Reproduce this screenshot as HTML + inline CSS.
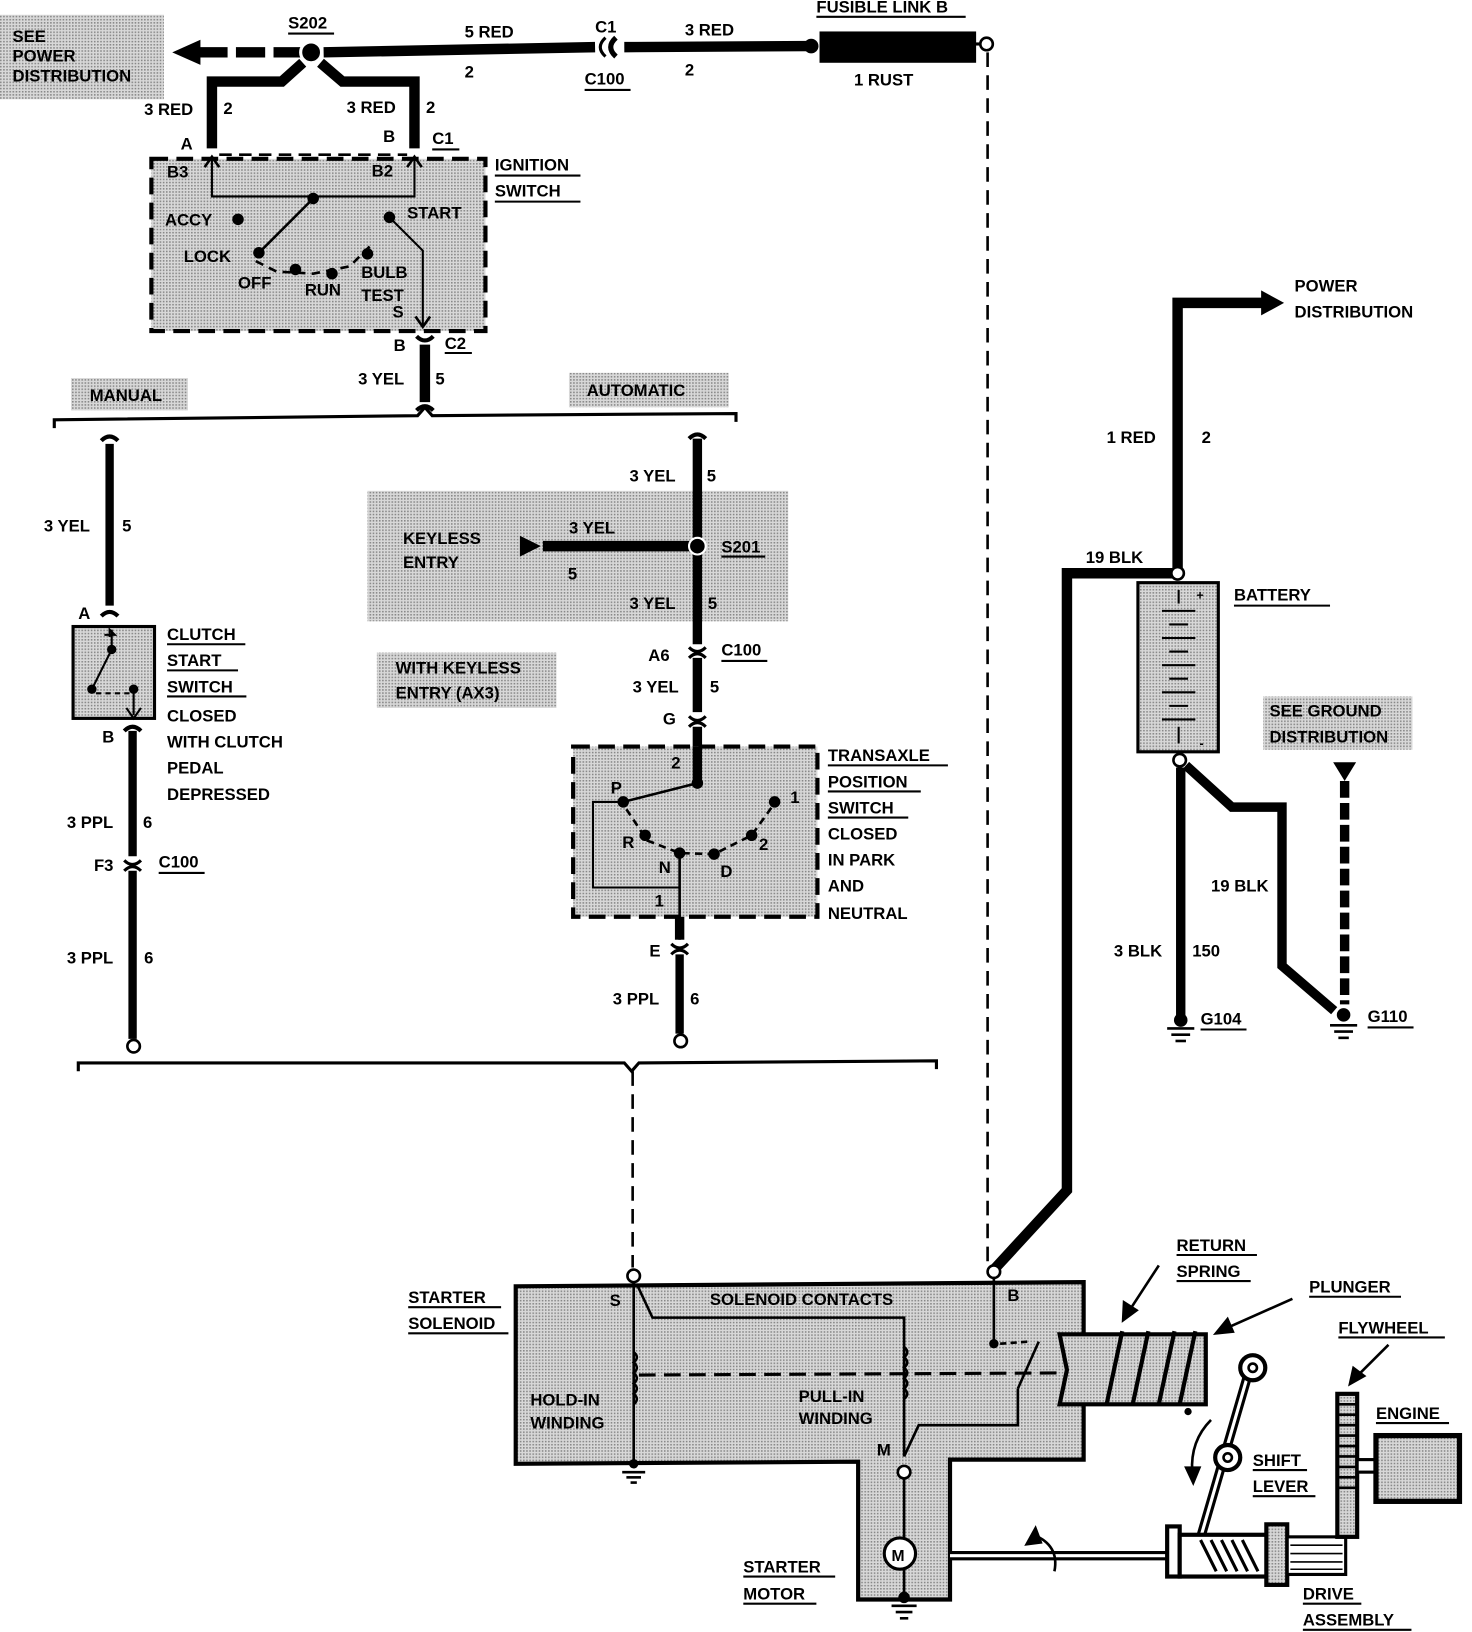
<!DOCTYPE html>
<html><head><meta charset="utf-8"><style>
html,body{margin:0;padding:0;background:#fff;}
svg{display:block;}
text{font-family:"Liberation Sans",sans-serif;font-weight:bold;font-size:16px;fill:#000;}
</style></head><body>
<svg width="1472" height="1632" viewBox="0 0 1410 1563" xmlns="http://www.w3.org/2000/svg">
<defs>
<pattern id="dots" width="3" height="3" patternUnits="userSpaceOnUse"><rect width="3" height="3" fill="#d8d8d8"/><rect width="1.5" height="1.5" fill="#888"/></pattern>
</defs>
<g fill="none" stroke="#000" stroke-linecap="butt">
<!-- gray label boxes -->
<rect x="0" y="14" width="157" height="81" fill="url(#dots)" stroke="none"/>
<rect x="68" y="362" width="112" height="31" fill="url(#dots)" stroke="none"/>
<rect x="545" y="357" width="153" height="33" fill="url(#dots)" stroke="none"/>
<rect x="352" y="470" width="403" height="125" fill="url(#dots)" stroke="none"/>
<rect x="361" y="625" width="172" height="53" fill="url(#dots)" stroke="none"/>
<rect x="1210" y="667" width="143" height="51" fill="url(#dots)" stroke="none"/>

<!-- top feed -->
<polygon points="165,50 192,38 192,62" fill="#000" stroke="none"/>
<line x1="190" y1="50" x2="288" y2="50" stroke-width="10" stroke-dasharray="28,8"/>
<circle cx="298" cy="50" r="10" fill="#000" stroke="#fff" stroke-width="3"/>
<polyline points="310,50 570,45" stroke-width="10"/>
<path d="M590,36 Q580,45 590,54" stroke-width="5"/>
<path d="M580,36 Q570,45 580,54" stroke-width="3"/>
<polyline points="598,45 775,44" stroke-width="10"/>
<circle cx="777" cy="44" r="7" fill="#000" stroke="none"/>
<rect x="785" y="30" width="150" height="30" fill="#000" stroke="none"/>
<line x1="930" y1="42" x2="940" y2="42" stroke-width="3"/>
<circle cx="945" cy="42" r="6" fill="#fff" stroke-width="2.5"/>
<line x1="946" y1="50" x2="946" y2="1210" stroke-width="2.5" stroke-dasharray="14,8"/>
<!-- S202 branches -->
<polyline points="290,60 270,78 203,78 203,142" stroke-width="10" stroke-linejoin="miter"/>
<polyline points="307,60 328,78 397,78 397,142" stroke-width="10"/>
<line x1="210" y1="148" x2="390" y2="148" stroke-width="2.5" stroke-dasharray="12,7"/>
<!-- ignition switch -->
<rect x="145" y="152" width="320" height="165" fill="url(#dots)" stroke-width="4" stroke-dasharray="16,8"/>
<polyline points="203,152 203,188 397,188 397,152" stroke-width="2"/>
<polyline points="196,160 203,150 210,160" stroke-width="2.5"/>
<polyline points="390,160 397,150 404,160" stroke-width="2.5"/>
<circle cx="300" cy="190" r="5" fill="#000"/>
<line x1="300" y1="190" x2="248" y2="242" stroke-width="2.5"/>
<circle cx="248" cy="242" r="5" fill="#000"/>
<circle cx="228" cy="210" r="5" fill="#000"/>
<circle cx="283" cy="258" r="5" fill="#000"/>
<circle cx="318" cy="262" r="5" fill="#000"/>
<circle cx="352" cy="243" r="5" fill="#000"/>
<circle cx="373" cy="208" r="5" fill="#000"/>
<path d="M245,250 L265,260 L300,262 L335,255 L355,235" stroke-width="2.5" stroke-dasharray="8,6"/>
<polyline points="373,208 405,240 405,312" stroke-width="2"/>
<polyline points="398,303 405,313 412,303" stroke-width="2.5"/>
<!-- C2 -->
<path d="M399,322 Q407,330 415,322" stroke-width="4"/>
<line x1="407" y1="330" x2="407" y2="385" stroke-width="10"/>
<path d="M399,393 Q407,385 415,393" stroke-width="4"/>
<!-- upper brace -->
<path d="M52,410 L52,402 L400,398 L407,390 L414,398 L705,396 L705,404" stroke-width="3"/>
<!-- manual branch -->
<path d="M97,422 Q105,414 113,422" stroke-width="4"/>
<line x1="105" y1="425" x2="105" y2="580" stroke-width="8"/>
<path d="M97,590 Q105,582 113,590" stroke-width="4"/>
<rect x="70" y="600" width="78" height="88" fill="url(#dots)" stroke-width="3"/>
<polyline points="105,610 105,603 110,608 100,608" stroke-width="2"/>
<circle cx="107" cy="622" r="4" fill="#000"/>
<circle cx="88" cy="660" r="4" fill="#000"/>
<circle cx="128" cy="660" r="4" fill="#000"/>
<line x1="107" y1="622" x2="88" y2="660" stroke-width="2"/>
<line x1="107" y1="603" x2="107" y2="622" stroke-width="2"/>
<line x1="92" y1="664" x2="125" y2="664" stroke-width="2" stroke-dasharray="5,4"/>
<polyline points="128,660 128,685" stroke-width="2"/>
<polyline points="121,678 128,688 135,678" stroke-width="2"/>
<path d="M119,700 Q127,692 135,700" stroke-width="4"/>
<line x1="127" y1="700" x2="127" y2="820" stroke-width="8"/>
<path d="M119,824 Q127,832 135,824" stroke-width="3"/>
<path d="M119,834 Q127,826 135,834" stroke-width="3"/>
<line x1="127" y1="834" x2="127" y2="995" stroke-width="8"/>
<circle cx="128" cy="1002" r="6" fill="#fff" stroke-width="2.5"/>
<!-- automatic branch -->
<path d="M660,420 Q668,412 676,420" stroke-width="4"/>
<line x1="668" y1="420" x2="668" y2="617" stroke-width="9"/>
<polygon points="498,513 518,523 498,533" fill="#000" stroke="none"/>
<line x1="520" y1="523" x2="668" y2="523" stroke-width="10"/>
<circle cx="668" cy="523" r="8" fill="#000" stroke="#fff" stroke-width="2"/>
<path d="M660,620 Q668,628 676,620" stroke-width="3"/>
<path d="M660,630 Q668,622 676,630" stroke-width="3"/>
<line x1="668" y1="630" x2="668" y2="682" stroke-width="9"/>
<path d="M660,686 Q668,694 676,686" stroke-width="3"/>
<path d="M660,696 Q668,688 676,696" stroke-width="3"/>
<line x1="668" y1="696" x2="668" y2="750" stroke-width="9"/>
<!-- transaxle -->
<rect x="549" y="715" width="234" height="163" fill="url(#dots)" stroke-width="4" stroke-dasharray="16,8"/>
<rect x="549" y="715" width="234" height="10" fill="none" stroke="none"/>
<line x1="668" y1="715" x2="668" y2="750" stroke-width="9"/>
<circle cx="668" cy="750" r="5" fill="#000"/>
<line x1="668" y1="750" x2="597" y2="768" stroke-width="2.5"/>
<polyline points="597,768 568,768 568,850 651,850" stroke-width="2"/>
<circle cx="597" cy="768" r="5" fill="#000"/>
<circle cx="618" cy="800" r="5" fill="#000"/>
<circle cx="651" cy="817" r="5" fill="#000"/>
<circle cx="684" cy="818" r="5" fill="#000"/>
<circle cx="720" cy="800" r="5" fill="#000"/>
<circle cx="742" cy="768" r="5" fill="#000"/>
<path d="M600,775 L620,805 L651,817 L684,818 L720,800 L740,772" stroke-width="2.5" stroke-dasharray="7,5"/>
<line x1="651" y1="817" x2="651" y2="900" stroke-width="2.5"/>
<line x1="651" y1="878" x2="651" y2="900" stroke-width="9"/>
<path d="M643,904 Q651,912 659,904" stroke-width="3"/>
<path d="M643,914 Q651,906 659,914" stroke-width="3"/>
<line x1="651" y1="914" x2="651" y2="990" stroke-width="8"/>
<circle cx="652" cy="997" r="6" fill="#fff" stroke-width="2.5"/>
<!-- lower brace -->
<path d="M75,1026 L75,1018 L598,1018 L605,1026 L612,1018 L897,1016 L897,1024" stroke-width="3"/>
<line x1="606" y1="1026" x2="606" y2="1214" stroke-width="2.5" stroke-dasharray="14,8"/>

<!-- right power section -->
<polyline points="1128,545 1128,290 1210,290" stroke-width="10"/>
<polygon points="1208,278 1230,290 1208,302" fill="#000" stroke="none"/>
<polyline points="1128,549 1022,549 1022,1140 952,1216" stroke-width="10" stroke-linejoin="miter"/>
<rect x="1090" y="558" width="77" height="162" fill="url(#dots)" stroke-width="3"/>
<g stroke-width="2">
<line x1="1113" y1="585" x2="1145" y2="585"/><line x1="1120" y1="598" x2="1138" y2="598"/>
<line x1="1113" y1="611" x2="1145" y2="611"/><line x1="1120" y1="624" x2="1138" y2="624"/>
<line x1="1113" y1="637" x2="1145" y2="637"/><line x1="1120" y1="650" x2="1138" y2="650"/>
<line x1="1113" y1="663" x2="1145" y2="663"/><line x1="1120" y1="676" x2="1138" y2="676"/>
<line x1="1113" y1="689" x2="1145" y2="689"/><line x1="1129" y1="565" x2="1129" y2="578"/><line x1="1129" y1="696" x2="1129" y2="712"/>
</g>
<circle cx="1128" cy="549" r="6" fill="#fff" stroke-width="2.5"/>
<circle cx="1130" cy="728" r="6" fill="#fff" stroke-width="2.5"/>
<line x1="1131" y1="735" x2="1131" y2="975" stroke-width="9"/>
<polyline points="1136,733 1180,773 1228,773 1228,925 1278,968" stroke-width="9" stroke-linejoin="miter"/>
<circle cx="1131" cy="977" r="6" fill="#000"/>
<g stroke-width="2.5"><line x1="1118" y1="985" x2="1144" y2="985"/><line x1="1122" y1="991" x2="1140" y2="991"/><line x1="1126" y1="997" x2="1136" y2="997"/></g>
<circle cx="1287" cy="972" r="6" fill="#000"/>
<g stroke-width="2.5"><line x1="1274" y1="982" x2="1300" y2="982"/><line x1="1278" y1="988" x2="1296" y2="988"/><line x1="1282" y1="994" x2="1292" y2="994"/></g>
<polygon points="1277,730 1299,730 1288,748" fill="#000" stroke="none"/>
<line x1="1288" y1="748" x2="1288" y2="962" stroke-width="9" stroke-dasharray="16,5"/>

<!-- solenoid -->
<path d="M494,1232 L1038,1228 L1038,1398 L910,1398 L910,1532 L822,1532 L822,1400 L494,1402 Z" fill="url(#dots)" stroke-width="4"/>
<circle cx="607" cy="1222" r="6" fill="#fff" stroke-width="2.5"/>
<circle cx="952" cy="1218" r="6" fill="#fff" stroke-width="2.5"/>
<line x1="607" y1="1228" x2="607" y2="1400" stroke-width="2.5"/>
<polyline points="610,1230 625,1262 866,1262 866,1395" stroke-width="2.5"/>
<path d="M607,1295 q6,5 0,10 q6,5 0,10 q6,5 0,10 q6,5 0,10 q6,5 0,10 M866,1290 q6,5 0,10 q6,5 0,10 q6,5 0,10 q6,5 0,10 q6,5 0,10" stroke-width="2.5"/>
<line x1="612" y1="1317" x2="1012" y2="1315" stroke-width="3" stroke-dasharray="16,8"/>
<line x1="952" y1="1224" x2="952" y2="1287" stroke-width="2.5"/>
<circle cx="952" cy="1287" r="4" fill="#000"/>
<line x1="958" y1="1287" x2="985" y2="1285" stroke-width="2.5" stroke-dasharray="6,4"/>
<line x1="995" y1="1285" x2="975" y2="1330" stroke-width="2.5"/>
<polyline points="975,1330 975,1365 880,1365 866,1395" stroke-width="2.5"/>
<circle cx="607" cy="1402" r="4" fill="#000"/>
<g stroke-width="2.5"><line x1="596" y1="1410" x2="618" y2="1410"/><line x1="600" y1="1415" x2="614" y2="1415"/><line x1="604" y1="1420" x2="610" y2="1420"/></g>
<circle cx="866" cy="1410" r="6" fill="#fff" stroke-width="2.5"/>
<line x1="866" y1="1416" x2="866" y2="1473" stroke-width="2.5"/>
<circle cx="862" cy="1488" r="15" fill="#fff" stroke-width="3"/>
<line x1="866" y1="1503" x2="866" y2="1528" stroke-width="2.5"/>
<circle cx="866" cy="1530" r="5" fill="#000"/>
<g stroke-width="2.5"><line x1="854" y1="1538" x2="878" y2="1538"/><line x1="858" y1="1544" x2="874" y2="1544"/><line x1="862" y1="1550" x2="870" y2="1550"/></g>
<!-- plunger & spring -->
<path d="M1015,1278 L1155,1278 L1155,1345 L1015,1345 L1022,1312 Z" fill="url(#dots)" stroke-width="4"/>
<g stroke-width="4"><path d="M1060,1345 L1075,1275"/><path d="M1085,1345 L1100,1275"/><path d="M1110,1345 L1125,1275"/><path d="M1130,1345 L1145,1275"/></g>
<circle cx="1138" cy="1352" r="3" fill="#000"/>
<line x1="1110" y1="1212" x2="1080" y2="1258" stroke-width="2.5"/>
<polygon points="1075,1266 1076,1246 1090,1255" fill="#000"/>
<line x1="1238" y1="1244" x2="1175" y2="1272" stroke-width="2.5"/>
<polygon points="1163,1278 1176,1262 1182,1276" fill="#000"/>
<line x1="1330" y1="1288" x2="1300" y2="1318" stroke-width="2.5"/>
<polygon points="1292,1327 1296,1309 1308,1318" fill="#000"/>
<!-- shift lever -->
<line x1="1195" y1="1318" x2="1145" y2="1490" stroke-width="9"/>
<line x1="1195" y1="1318" x2="1145" y2="1490" stroke-width="3" stroke="#fff"/>
<circle cx="1200" cy="1310" r="12" fill="#fff" stroke-width="4"/><circle cx="1200" cy="1310" r="4" fill="#fff" stroke-width="2.5"/>
<circle cx="1176" cy="1396" r="12" fill="#fff" stroke-width="4"/><circle cx="1176" cy="1396" r="4" fill="#fff" stroke-width="2.5"/>
<path d="M1160,1360 Q1140,1380 1142,1410" stroke-width="2.5"/>
<polygon points="1135,1405 1150,1405 1143,1422" fill="#000"/>
<!-- shaft & drive -->
<line x1="910" y1="1490" x2="1122" y2="1490" stroke-width="9"/>
<line x1="910" y1="1490" x2="1122" y2="1490" stroke-width="3" stroke="#fff"/>
<path d="M990,1470 Q1015,1480 1010,1505" stroke-width="2.5"/>
<polygon points="982,1480 992,1462 998,1478" fill="#000"/>
<rect x="1118" y="1462" width="12" height="48" fill="#fff" stroke-width="4"/>
<circle cx="1148" cy="1490" r="13" fill="#ccc" stroke-width="3"/>
<rect x="1130" y="1470" width="90" height="40" fill="#fff" stroke-width="4"/>
<g stroke-width="3"><line x1="1150" y1="1475" x2="1165" y2="1505"/><line x1="1160" y1="1475" x2="1175" y2="1505"/><line x1="1170" y1="1475" x2="1185" y2="1505"/><line x1="1180" y1="1475" x2="1195" y2="1505"/><line x1="1190" y1="1475" x2="1205" y2="1505"/></g>
<rect x="1213" y="1460" width="20" height="58" fill="url(#dots)" stroke-width="4"/>
<rect x="1233" y="1472" width="56" height="36" fill="#fff" stroke-width="3"/>
<g stroke-width="1.5"><line x1="1236" y1="1480" x2="1286" y2="1480"/><line x1="1236" y1="1488" x2="1286" y2="1488"/><line x1="1236" y1="1496" x2="1286" y2="1496"/><line x1="1236" y1="1503" x2="1286" y2="1503"/></g>
<rect x="1281" y="1335" width="19" height="137" fill="url(#dots)" stroke-width="4"/>
<g stroke-width="2.5"><line x1="1281" y1="1345" x2="1300" y2="1345"/><line x1="1281" y1="1355" x2="1300" y2="1355"/><line x1="1281" y1="1365" x2="1300" y2="1365"/><line x1="1281" y1="1375" x2="1300" y2="1375"/><line x1="1281" y1="1385" x2="1300" y2="1385"/><line x1="1281" y1="1395" x2="1300" y2="1395"/><line x1="1281" y1="1405" x2="1300" y2="1405"/><line x1="1281" y1="1415" x2="1300" y2="1415"/><line x1="1281" y1="1425" x2="1300" y2="1425"/></g>
<rect x="1300" y="1398" width="18" height="12" fill="#fff" stroke-width="3"/>
<rect x="1318" y="1375" width="80" height="63" fill="url(#dots)" stroke-width="5"/>

<!-- underlines -->
<g stroke-width="2">
<line x1="276" y1="32" x2="320" y2="32"/><line x1="560" y1="86" x2="604" y2="86"/><line x1="782" y1="16" x2="925" y2="16"/>
<line x1="414" y1="143" x2="440" y2="143"/><line x1="474" y1="168" x2="556" y2="168"/><line x1="474" y1="193" x2="556" y2="193"/>
<line x1="426" y1="338" x2="452" y2="338"/>
<line x1="160" y1="617" x2="235" y2="617"/><line x1="160" y1="642" x2="228" y2="642"/><line x1="160" y1="667" x2="236" y2="667"/>
<line x1="152" y1="836" x2="196" y2="836"/><line x1="691" y1="533" x2="733" y2="533"/><line x1="691" y1="633" x2="735" y2="633"/>
<line x1="793" y1="733" x2="908" y2="733"/><line x1="793" y1="758" x2="882" y2="758"/><line x1="793" y1="783" x2="870" y2="783"/>
<line x1="1182" y1="580" x2="1274" y2="580"/><line x1="1150" y1="986" x2="1194" y2="986"/><line x1="1310" y1="984" x2="1354" y2="984"/>
<line x1="391" y1="1252" x2="480" y2="1252"/><line x1="391" y1="1277" x2="487" y2="1277"/>
<line x1="1127" y1="1202" x2="1204" y2="1202"/><line x1="1127" y1="1227" x2="1198" y2="1227"/>
<line x1="1254" y1="1242" x2="1342" y2="1242"/><line x1="1282" y1="1281" x2="1384" y2="1281"/><line x1="1318" y1="1363" x2="1388" y2="1363"/>
<line x1="1200" y1="1408" x2="1252" y2="1408"/><line x1="1200" y1="1433" x2="1260" y2="1433"/>
<line x1="712" y1="1510" x2="800" y2="1510"/><line x1="712" y1="1536" x2="782" y2="1536"/>
<line x1="1248" y1="1536" x2="1304" y2="1536"/><line x1="1248" y1="1561" x2="1352" y2="1561"/>
</g>
</g>

<!-- labels -->
<g>
<text x="12" y="40">SEE</text><text x="12" y="59">POWER</text><text x="12" y="78">DISTRIBUTION</text>
<text x="276" y="27">S202</text><text x="445" y="36">5 RED</text><text x="445" y="74">2</text>
<text x="570" y="31">C1</text><text x="560" y="81">C100</text><text x="656" y="34">3 RED</text><text x="656" y="72">2</text>
<text x="782" y="12">FUSIBLE LINK B</text><text x="818" y="82">1 RUST</text>
<text x="138" y="110">3 RED</text><text x="214" y="109">2</text><text x="332" y="108">3 RED</text><text x="408" y="108">2</text>
<text x="173" y="143">A</text><text x="367" y="136">B</text><text x="414" y="138">C1</text>
<text x="474" y="163">IGNITION</text><text x="474" y="188">SWITCH</text>
<text x="160" y="170">B3</text><text x="356" y="169">B2</text>
<text x="158" y="216">ACCY</text><text x="176" y="251">LOCK</text><text x="228" y="276">OFF</text><text x="292" y="283">RUN</text>
<text x="346" y="266">BULB</text><text x="346" y="288">TEST</text><text x="376" y="304">S</text><text x="390" y="209">START</text>
<text x="377" y="336">B</text><text x="426" y="334">C2</text><text x="343" y="368">3 YEL</text><text x="417" y="368">5</text>
<text x="86" y="384">MANUAL</text><text x="562" y="379">AUTOMATIC</text>
<text x="42" y="509">3 YEL</text><text x="117" y="509">5</text><text x="75" y="593">A</text>
<text x="160" y="613">CLUTCH</text><text x="160" y="638">START</text><text x="160" y="663">SWITCH</text><text x="160" y="691">CLOSED</text>
<text x="160" y="716">WITH CLUTCH</text><text x="160" y="741">PEDAL</text><text x="160" y="766">DEPRESSED</text>
<text x="98" y="711">B</text><text x="64" y="793">3 PPL</text><text x="137" y="793">6</text><text x="90" y="834">F3</text><text x="152" y="831">C100</text>
<text x="64" y="923">3 PPL</text><text x="138" y="923">6</text>
<text x="603" y="461">3 YEL</text><text x="677" y="461">5</text>
<text x="386" y="521">KEYLESS</text><text x="386" y="544">ENTRY</text><text x="545" y="511">3 YEL</text><text x="544" y="555">5</text>
<text x="691" y="529">S201</text><text x="603" y="583">3 YEL</text><text x="678" y="583">5</text>
<text x="621" y="633">A6</text><text x="691" y="628">C100</text><text x="606" y="663">3 YEL</text><text x="680" y="663">5</text><text x="635" y="694">G</text>
<text x="379" y="645">WITH KEYLESS</text><text x="379" y="669">ENTRY (AX3)</text>
<text x="793" y="729">TRANSAXLE</text><text x="793" y="754">POSITION</text><text x="793" y="779">SWITCH</text><text x="793" y="804">CLOSED</text>
<text x="793" y="829">IN PARK</text><text x="793" y="854">AND</text><text x="793" y="880">NEUTRAL</text>
<text x="643" y="736">2</text><text x="585" y="760">P</text><text x="596" y="812">R</text><text x="631" y="836">N</text><text x="690" y="840">D</text><text x="727" y="814">2</text><text x="757" y="769">1</text><text x="627" y="868">1</text>
<text x="622" y="916">E</text><text x="587" y="962">3 PPL</text><text x="661" y="962">6</text>
<text x="1240" y="279">POWER</text><text x="1240" y="304">DISTRIBUTION</text>
<text x="1060" y="424">1 RED</text><text x="1151" y="424">2</text><text x="1040" y="539">19 BLK</text>
<text x="1182" y="575">BATTERY</text><text x="1146" y="574" style="font-size:12px">+</text><text x="1149" y="716" style="font-size:12px">-</text>
<text x="1216" y="686">SEE GROUND</text><text x="1216" y="711">DISTRIBUTION</text>
<text x="1160" y="854">19 BLK</text><text x="1067" y="916">3 BLK</text><text x="1142" y="916">150</text>
<text x="1150" y="981">G104</text><text x="1310" y="979">G110</text>
<text x="391" y="1248">STARTER</text><text x="391" y="1273">SOLENOID</text>
<text x="680" y="1250">SOLENOID CONTACTS</text><text x="584" y="1251">S</text><text x="965" y="1246">B</text>
<text x="508" y="1346">HOLD-IN</text><text x="508" y="1368">WINDING</text><text x="765" y="1343">PULL-IN</text><text x="765" y="1364">WINDING</text>
<text x="840" y="1394">M</text><text x="854" y="1495" style="font-size:15px">M</text>
<text x="712" y="1506">STARTER</text><text x="712" y="1532">MOTOR</text>
<text x="1127" y="1198">RETURN</text><text x="1127" y="1223">SPRING</text><text x="1254" y="1238">PLUNGER</text><text x="1282" y="1277">FLYWHEEL</text>
<text x="1318" y="1359">ENGINE</text><text x="1200" y="1404">SHIFT</text><text x="1200" y="1429">LEVER</text>
<text x="1248" y="1532">DRIVE</text><text x="1248" y="1557">ASSEMBLY</text>
</g>
</svg>
</body></html>
